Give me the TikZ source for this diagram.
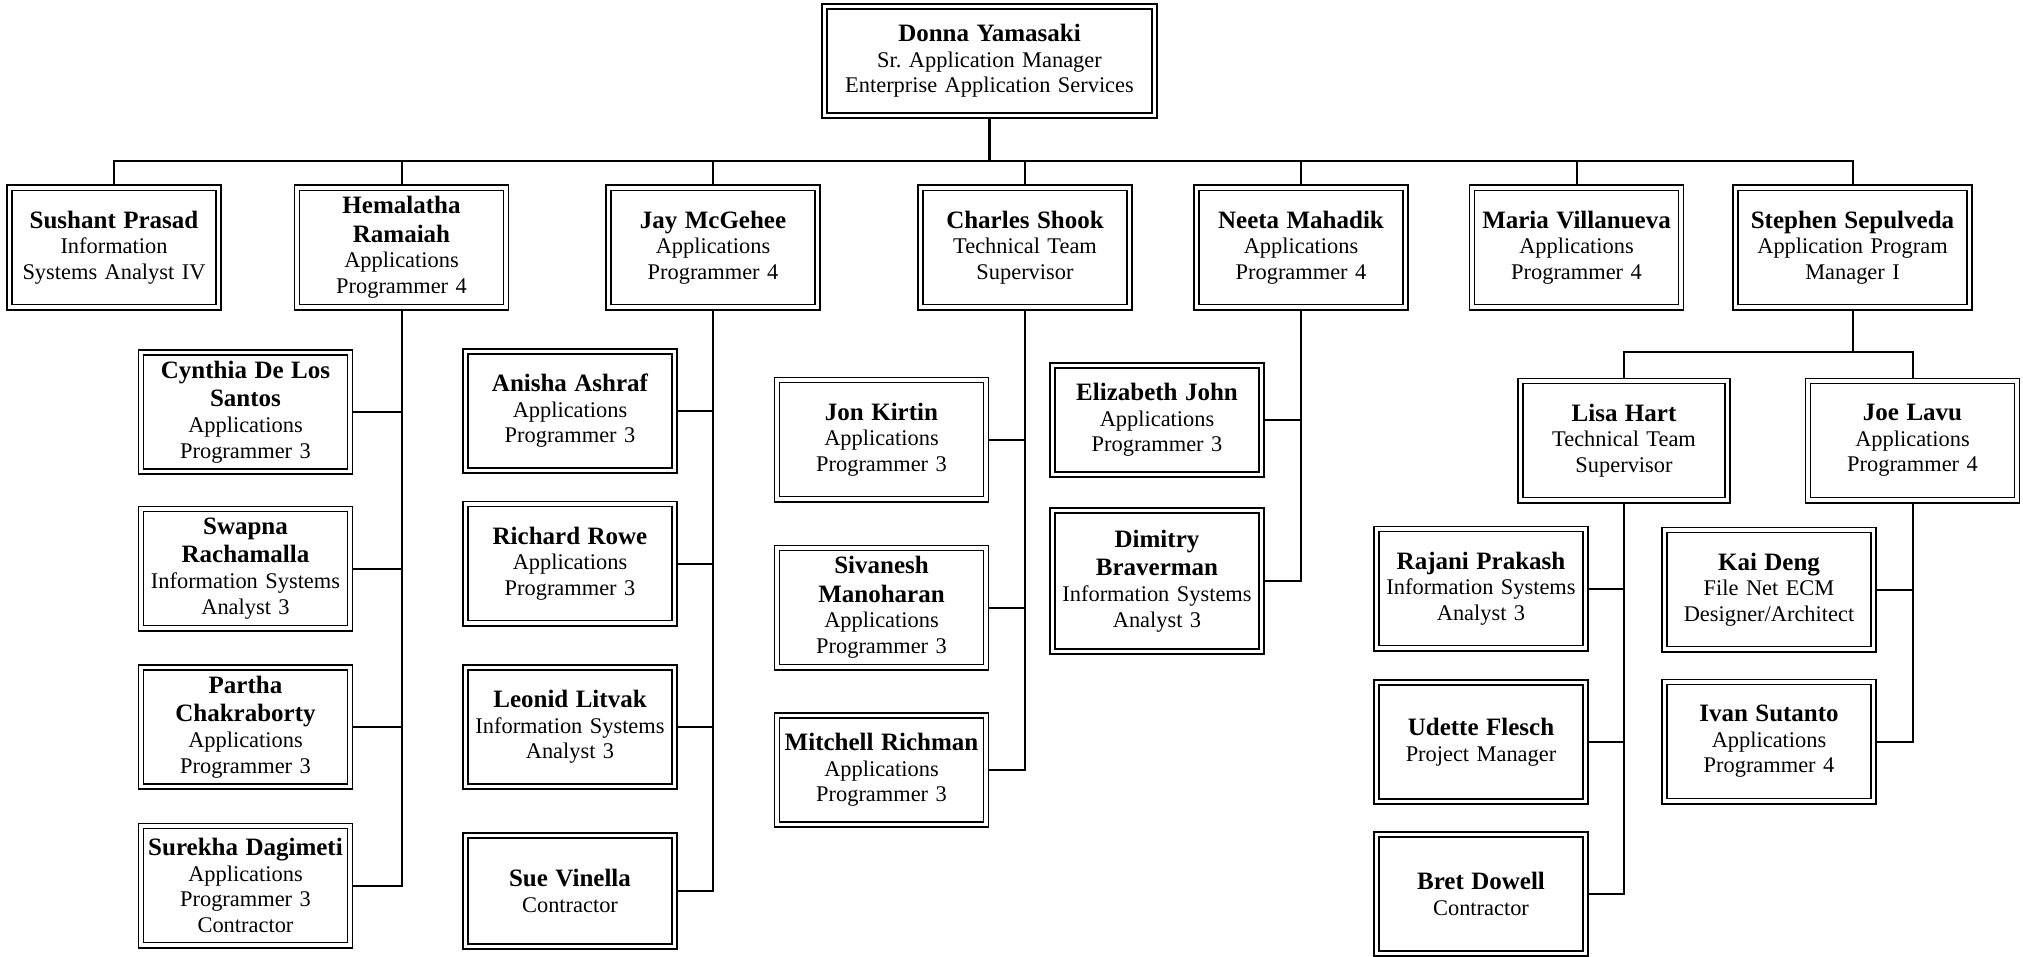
\documentclass[tikz,border=0pt]{standalone}
\usepackage{fontspec}
\setmainfont{Liberation Serif}
\usetikzlibrary{calc}
\newcommand{\nm}[1]{{\fontsize{12.5}{14.2}\selectfont\bfseries #1\par}}

\begin{document}
\begin{tikzpicture}[x=0.5pt, y=-0.5pt,
  box/.style={draw, line width=0.8pt, double, double distance=1.8pt,
  inner sep=0pt, outer sep=1.7pt, text width=100pt, align=center,
  minimum width=104.5pt, minimum height=59.6pt,
  font=\fontsize{11.2}{12.8}\selectfont},
  conn/.style={draw, line width=1pt}
]
\useasboundingbox (0,0) rectangle (2023,957);
\coordinate (bus) at (0,161);
\coordinate (sub) at (0,352);

% top
\node[box, text width=160pt, minimum width=165pt, minimum height=54.6pt] (donna) at (989.5,61)
  {\nm{Donna Yamasaki}Sr.\ Application Manager\\Enterprise Application Services};

% second row
\node[box] (sushant) at (114,247.5) {\nm{Sushant Prasad}Information\\Systems Analyst IV};
\node[box] (hema)    at (401.5,247.5) {\nm{Hemalatha\\Ramaiah}Applications\\Programmer 4};
\node[box] (jay)     at (713,247.5) {\nm{Jay McGehee}Applications\\Programmer 4};
\node[box] (charles) at (1025,247.5) {\nm{Charles Shook}Technical Team\\Supervisor};
\node[box] (neeta)   at (1301,247.5) {\nm{Neeta Mahadik}Applications\\Programmer 4};
\node[box] (maria)   at (1576.5,247.5) {\nm{Maria Villanueva}Applications\\Programmer 4};
\node[box, text width=112pt, minimum width=117pt] (stephen) at (1852.5,247.5)
  {\nm{Stephen Sepulveda}Application Program\\Manager I};

% Hemalatha's team
\node[box] (cynthia) at (245.5,412) {\nm{Cynthia De Los\\Santos}Applications\\Programmer 3};
\node[box] (swapna)  at (245.5,568.5) {\nm{Swapna\\Rachamalla}Information Systems\\Analyst 3};
\node[box] (partha)  at (245.5,727) {\nm{Partha\\Chakraborty}Applications\\Programmer 3};
\node[box] (surekha) at (245.5,885.5) {\nm{Surekha Dagimeti}Applications\\Programmer 3\\Contractor};

% Jay's team
\node[box] (anisha)  at (570,411) {\nm{Anisha Ashraf}Applications\\Programmer 3};
\node[box] (richard) at (570,563.5) {\nm{Richard Rowe}Applications\\Programmer 3};
\node[box] (leonid)  at (570,727) {\nm{Leonid Litvak}Information Systems\\Analyst 3};
\node[box, minimum height=55.6pt] (sue) at (570,891) {\nm{Sue Vinella}Contractor};

% Charles' team
\node[box] (jon)      at (881.5,439.5) {\nm{Jon Kirtin}Applications\\Programmer 3};
\node[box] (sivanesh) at (881.5,607.5) {\nm{Sivanesh\\Manoharan}Applications\\Programmer 3};
\node[box, minimum height=54.6pt] (mitchell) at (881.5,770) {\nm{Mitchell Richman}Applications\\Programmer 3};

% Neeta's team
\node[box, minimum height=54.6pt] (elizabeth) at (1157,420) {\nm{Elizabeth John}Applications\\Programmer 3};
\node[box, minimum height=70.6pt] (dimitry) at (1157,581) {\nm{Dimitry\\Braverman}Information Systems\\Analyst 3};

% Stephen's team
\node[box, minimum width=103.5pt] (lisa) at (1624,440.5) {\nm{Lisa Hart}Technical Team\\Supervisor};
\node[box] (joe) at (1912.5,440.5) {\nm{Joe Lavu}Applications\\Programmer 4};
\node[box] (rajani) at (1481,588.5) {\nm{Rajani Prakash}Information Systems\\Analyst 3};
\node[box] (udette) at (1481,742) {\nm{Udette Flesch}Project Manager};
\node[box] (bret)   at (1481,894) {\nm{Bret Dowell}Contractor};
\node[box] (kai)    at (1769,589.5) {\nm{Kai Deng}File Net ECM\\Designer/Architect};
\node[box] (ivan)   at (1769,741.5) {\nm{Ivan Sutanto}Applications\\Programmer 4};

% lines
\draw[conn, line width=1.5pt] (donna.south) -- (donna.south |- bus);
\draw[conn] (sushant.north) |- (stephen.north |- bus) -- (stephen.north);
\foreach \n in {hema, jay, charles, neeta, maria}
  \draw[conn] (\n.north) -- (\n.north |- bus);

\draw[conn] (hema.south) |- (surekha.east);
\foreach \n in {cynthia, swapna, partha}
  \draw[conn] (\n.east) -- (\n.east -| hema.south);

\draw[conn] (jay.south) |- (sue.east);
\foreach \n in {anisha, richard, leonid}
  \draw[conn] (\n.east) -- (\n.east -| jay.south);

\draw[conn] (charles.south) |- (mitchell.east);
\foreach \n in {jon, sivanesh}
  \draw[conn] (\n.east) -- (\n.east -| charles.south);

\draw[conn] (neeta.south) |- (dimitry.east);
\draw[conn] (elizabeth.east) -- (elizabeth.east -| neeta.south);

\draw[conn] (stephen.south) -- (stephen.south |- sub);
\draw[conn] (lisa.north) |- (joe.north |- sub) -- (joe.north);

\draw[conn] (lisa.south) |- (bret.east);
\foreach \n in {rajani, udette}
  \draw[conn] (\n.east) -- (\n.east -| lisa.south);

\draw[conn] (joe.south) |- (ivan.east);
\draw[conn] (kai.east) -- (kai.east -| joe.south);
\end{tikzpicture}
\end{document}
